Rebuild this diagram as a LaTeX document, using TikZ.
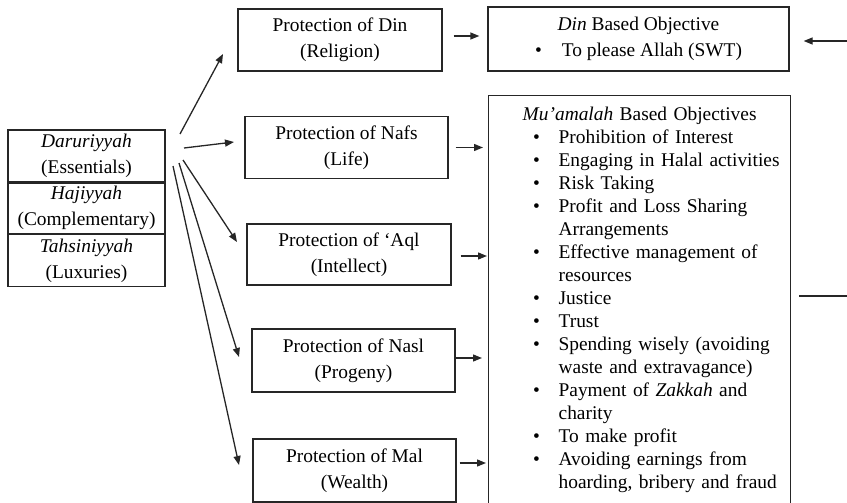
\documentclass[tikz,border=0pt]{standalone}
\usepackage{fontspec}
\setmainfont{Liberation Serif}
\usetikzlibrary{calc}
\usetikzlibrary{arrows.meta}
\usetikzlibrary{positioning}

\newcommand{\boxfont}{\fontsize{19.4}{26}\selectfont}
\newcommand{\listfont}{\fontsize{19.4}{23}\selectfont}
\newcommand{\itm}{\par\noindent\llap{\makebox[25.5pt][l]{\textbullet}}}

\begin{document}
\begin{tikzpicture}[x=1pt, y=-1pt,
  box/.style={draw=black!85, line width=1.3pt, align=center, inner sep=0pt, font=\boxfont},
  arr/.style={draw=black!85, line width=1.3pt, -{Triangle[length=9pt,width=7pt]}},
  plain/.style={draw=black!85, line width=1.3pt}]

\useasboundingbox (0,0) rectangle (847,503);

\node [box, minimum width=157pt, minimum height=52pt] (dar) at (86.5,156) {\textit{Daruriyyah}\\(Essentials)};
\node [box, minimum width=157pt, minimum height=50pt, below=0pt of dar] (haj) {\textit{Hajiyyah}\\(Complementary)};
\node [box, minimum width=157pt, minimum height=52pt, below=0pt of haj] (tah) {\textit{Tahsiniyyah}\\(Luxuries)};

\node [box, minimum width=204pt, minimum height=62pt] (pdin) at (340,40) {Protection of Din\\(Religion)};
\node [box, minimum width=203pt, minimum height=62pt] (pnafs) at (346.5,147.5) {Protection of Nafs\\(Life)};
\node [box, minimum width=204pt, minimum height=61pt] (paql) at (349,254.5) {Protection of `Aql\\(Intellect)};
\node [box, minimum width=203pt, minimum height=63pt] (pnasl) at (353.5,360.5) {Protection of Nasl\\(Progeny)};
\node [box, minimum width=203pt, minimum height=63pt] (pmal) at (354.5,470.5) {Protection of Mal\\(Wealth)};

\node [box, minimum width=301pt, minimum height=64pt] (obj1) at (638.5,39) {\textit{Din} Based Objective\\ \textbullet\hspace{20pt}To please Allah (SWT)};
\node [box, anchor=north west, text width=302pt, align=left, inner ysep=11pt, font=\listfont] (obj2) at (488,95) {%
{\centering\textit{Mu'amalah} Based Objectives\par}
\leftskip=70pt
\itm Prohibition of Interest
\itm Engaging in Halal activities
\itm Risk Taking
\itm Profit and Loss Sharing\newline Arrangements
\itm Effective management of\newline resources
\itm Justice
\itm Trust
\itm Spending wisely (avoiding\newline waste and extravagance)
\itm Payment of \textit{Zakkah} and\newline charity
\itm To make profit
\itm Avoiding earnings from\newline hoarding, bribery and fraud\par
\vspace*{10pt}};

\coordinate (s1) at (180,134);
\coordinate (t1) at (223,54);
\coordinate (s2) at (184,148);
\coordinate (t2) at (234,142);
\coordinate (s3) at (183,160);
\coordinate (t3) at (237,242);
\coordinate (s4) at (179,163);
\coordinate (t4) at (239,357);
\coordinate (s5) at (173,166);
\coordinate (t5) at (239,465);

\draw[arr] (s1)--(t1);
\draw[arr] (s2)--(t2);
\draw[arr] (s3)--(t3);
\draw[arr] (s4)--(t4);
\draw[arr] (s5)--(t5);

\coordinate (a1) at ([yshift=4pt]pdin.east);
\coordinate (a2) at (pnafs.east);
\coordinate (a3) at ([yshift=-1.5pt]paql.east);
\coordinate (a4) at ([yshift=2.5pt]pnasl.east);
\coordinate (a5) at ([yshift=7.5pt]pmal.east);

\draw[arr, shorten <=11pt, shorten >=8pt] (a1)--(a1 -| obj1.west);
\draw[arr, shorten <=7pt, shorten >=5pt] (a2)--(a2 -| obj2.west);
\draw[arr, shorten <=9pt, shorten >=1pt] (a3)--(a3 -| obj2.west);
\draw[arr, shorten >=6pt] (a4)--(a4 -| obj2.west);
\draw[arr, shorten <=3pt, shorten >=2pt] (a5)--(a5 -| obj2.west);

\coordinate (rin) at (847,41);
\draw[arr, shorten >=14pt] (rin)--(rin -| obj1.east);
\coordinate (rout) at (847,296);
\draw[plain, shorten <=8pt] (rout -| obj2.east)--(rout);
\end{tikzpicture}
\end{document}
